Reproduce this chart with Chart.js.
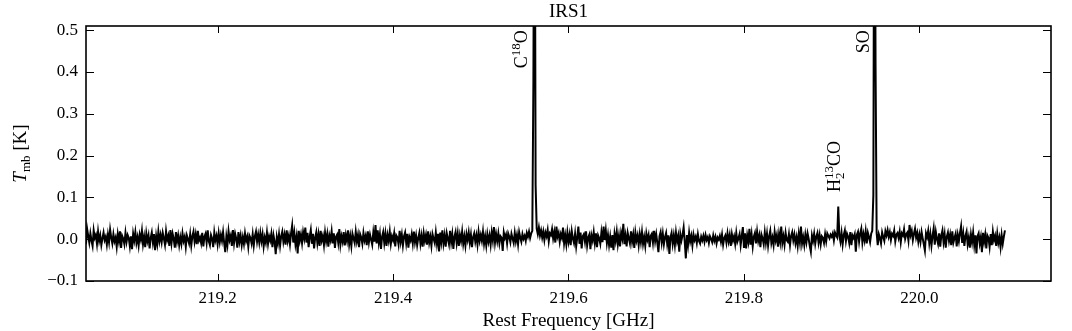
<!DOCTYPE html>
<html>
<head>
<meta charset="utf-8">
<title>IRS1</title>
<script src="https://cdn.jsdelivr.net/npm/chart.js@4.4.1/dist/chart.umd.min.js"></script>
<style>
  html, body { margin: 0; padding: 0; background: #fff; }
</style>
</head>
<body>
<canvas id="spectrum" width="1072" height="331"></canvas>
<script>
// channel grid of the spectrum
const freqStart = 219.05;    // GHz, first channel
const chanWidth = 0.00125;   // GHz per channel

// main beam temperature per channel in mK (40 channels = 0.05 GHz per row)
const tmbMilliK = [
  -12, 25, 8, -8, 14, -3, -16, 21, 3, 10, -11, 18, -4, 9, -14, 2, 16, -2, 6, -13, 11, -7, 23, 4, -10, 12, -5, 4, -18, 12, -5, 19, -21, 8, 1, -12, 15, -6, 10, 3,
  -17, 7, -24, 13, -3, 17, -9, 5, -15, 11, -1, 20, -12, 6, -19, 14, -4, 9, -22, 3, 16, -8, 12, -26, 7, -11, 18, -5, 10, -7, 15, 2, -13, 19, -2, 8, -16, 22, -9, 13,
  1, -20, 17, -6, 9, -14, 5, -11, 14, -4, 6, -18, 9, 0, -10, 12, -15, 7, 18, -6, 11, -12, 20, -3, 4, -9, 15, -17, 6, 13, -8, 21, -5, -14, 10, 2, -19, 16, -3, 8,
  -12, 14, -7, 10, -4, 17, -9, -31, 6, -13, 19, -2, 8, -16, 22, -9, 13, 1, -20, 17, -6, 9, -14, 5, -11, 14, -4, 6, -18, 9, 3, -10, 12, -15, 7, 18, -6, 11, -8, 15,
  -5, 12, -17, 4, -8, 16, -11, 7, -3, 13, -19, 9, -6, -36, 5, -10, 12, -15, 7, 18, -6, 10, -13, 21, -4, 9, -12, 14, 33, -8, 15, -12, 6, -34, 20, -3, 11, -9, 17, 2,
  28, -8, 15, -19, 6, 22, -11, 13, -22, 4, 17, -9, 11, -16, 20, -3, 8, -14, 16, -5, 12, -18, 9, -2, 19, -10, 14, -21, 6, 11, -8, 24, -13, 7, -6, 17, -15, 10, -4, 21,
  -12, 7, -16, 13, 2, -9, 18, -5, 10, -19, 12, 4, -11, 15, -3, 8, -14, 19, -7, 11, -1, -13, 16, -6, 34, -10, 21, -8, 12, -23, 6, 17, -9, 13, -16, 10, -4, 18, -11, 7,
  -2, 14, -17, 9, 4, -12, 20, -6, 11, -15, 7, 16, -9, 13, -20, 5, -3, 12, -10, 18, -7, 9, -14, 3, 15, -11, 8, -18, 14, -4, 10, -13, 19, -8, 6, -16, 12, 1, -9, 16,
  -10, 13, -29, 16, -6, 21, -10, 9, -18, 14, 1, -12, 20, -7, 12, -23, 6, 17, -9, 13, -16, 10, -4, 18, -11, 7, -15, 12, -2, 16, -8, 11, -19, 5, 14, -6, 9, -13, 17, -4,
  10, -4, 18, -11, 7, -15, 12, -6, 9, -13, 16, -3, 29, -8, 12, -5, 14, -10, 7, 3, -28, 16, 3, 11, -10, 14, 6, -7, 13, 2, -9, 15, -5, 10, -12, 17, 4, -6, 12, 1,
  8, -4, 15, 6, 18, 3, 14, 20, 380, 1200, 130, 25, 12, 28, 9, 21, 4, 18, -2, 16, 7, 22, -5, 14, 10, 24, 2, 17, -8, 30, 6, 15, -6, 12, 3, 28, -10, 9, -12, 16,
  -6, 11, -14, 19, 2, -9, 13, -17, 5, 30, -11, 16, -22, 7, 12, -6, 19, -15, 4, 11, -24, 9, -3, 17, -9, 14, -19, 9, 2, -11, 16, -7, 30, -2, 21, -9, 10, -14, 6, -20,
  10, -26, 13, -4, 18, -12, 8, -17, 15, 2, 37, -12, 8, -17, 15, 2, -10, 19, -6, 11, -21, 16, -3, 9, -14, 12, -7, 17, -11, 5, -16, 14, -1, 10, -19, 8, 13, -8, 20, -5,
  12, -9, -31, 7, 17, -8, 13, -12, 5, 15, -11, 9, -35, 4, 15, -11, 9, -14, 16, -5, 8, -30, 12, -3, 10, 28, -6, -46, 10, -13, 16, -5, 8, -15, 11, -2, 6, -9, 12, -4,
  -10, 6, -3, 8, -6, 10, -2, 5, -9, 7, 1, -7, 9, -4, 6, -10, 4, -1, 8, -6, 11, -13, 3, 9, -8, 14, -5, 10, -16, 12, -3, 7, -11, 15, -6, 2, 12, -14, 8, 29,
  -21, 14, -22, 9, -6, 25, -13, 11, -17, 6, 15, -10, 18, -4, 9, -19, 11, 2, -12, 16, -8, 13, -15, 7, 20, -9, 4, -14, 17, -3, 10, -18, 12, -6, 30, -9, 7, -13, 15, -2,
  -6, 12, -14, 8, 17, -3, 11, -10, 5, -16, 13, -7, 30, -10, 5, -14, 11, -7, 14, 1, -16, -30, 9, -4, 13, -11, 6, 15, -8, 10, -12, 7, 3, -9, 12, -5, 14, 8, 2, 11,
  6, 14, -3, 16, 9, 4, 78, 8, -6, 15, -12, 10, 21, -4, 13, 6, -9, 17, -14, 9, 3, 12, -30, 11, 18, -6, 14, 25, -8, 12, -3, 19, -10, 15, 5, -7, 13, 20, 105, 1200,
  420, 15, -14, 12, 3, -10, 16, 5, -4, 19, 9, 22, 6, 17, -2, 13, 8, 21, -5, 11, 15, 3, 18, -7, 14, 9, 24, 1, 12, 16, -3, 34, 10, 20, -2, 13, 25, 4, 15, -6,
  11, -6, 17, 2, -12, -27, 14, 5, 20, -9, 12, -15, 8, 26, -13, 17, 1, -11, 14, -18, 9, 21, -7, 12, -20, 6, 16, -4, 11, -14, 19, -8, 3, 13, -17, 10, -5, 15, 31, -9,
  13, -16, 8, 18, -12, 4, -20, 11, -7, 16, -14, 9, -34, 7, 14, -10, 5, -31, 15, -6, 11, -22, 9, 3, -18, 12, -14, 18, -2, 8, -16, 13, -9, 4, -19, 10, -11, 6, 21
];

const xTicks = [219.2, 219.4, 219.6, 219.8, 220.0];
const yTicks = [-0.1, 0.0, 0.1, 0.2, 0.3, 0.4, 0.5];

// line identifications: label text parts, where the label sits (GHz) and where it ends (K)
const lineLabels = [
  [{t: 'C'}, {sup: '18'}, {t: 'O'}],
  [{t: 'H'}, {sub: '2', sup: '13'}, {t: 'CO'}],
  [{t: 'SO'}]
];
const labelFreqs = [219.553, 219.910, 219.942];
const labelTops = [0.50, 0.235, 0.50];

const FONT = '"Liberation Serif", "Times New Roman", serif';

const points = tmbMilliK.map((v, i) => ({x: freqStart + i * chanWidth, y: v / 1000}));

function partFont(p, size) {
  if (p.t) return (p.it ? 'italic ' : '') + size + 'px ' + FONT;
  return Math.round(size * 0.7) + 'px ' + FONT;
}

function richWidth(ctx, parts, size) {
  let w = 0;
  parts.forEach(p => {
    ctx.font = partFont(p, size);
    if (p.t) w += ctx.measureText(p.t).width;
    else w += Math.max(p.sub ? ctx.measureText(p.sub).width : 0, p.sup ? ctx.measureText(p.sup).width : 0);
  });
  return w;
}

// draws along +x from x0 with the baseline at y=0 (caller sets up rotation)
function drawRich(ctx, parts, size, x0) {
  let x = x0;
  ctx.textAlign = 'left';
  ctx.textBaseline = 'alphabetic';
  parts.forEach(p => {
    ctx.font = partFont(p, size);
    if (p.t) {
      ctx.fillText(p.t, x, 0);
      x += ctx.measureText(p.t).width;
    } else {
      let w = 0;
      if (p.sup) { ctx.fillText(p.sup, x, -size * 0.4); w = ctx.measureText(p.sup).width; }
      if (p.sub) { ctx.fillText(p.sub, x, size * 0.2); w = Math.max(w, ctx.measureText(p.sub).width); }
      x += w;
    }
  });
}

const decorations = {
  id: 'decorations',
  afterDatasetsDraw(chart) {
    const {ctx, chartArea: a, scales: {x, y}} = chart;
    ctx.save();
    ctx.strokeStyle = '#000';
    ctx.lineWidth = 1;
    ctx.beginPath();
    x.ticks.forEach(t => {
      const px = Math.round(x.getPixelForValue(t.value)) + 0.5;
      ctx.moveTo(px, a.bottom); ctx.lineTo(px, a.bottom - 7);
      ctx.moveTo(px, a.top); ctx.lineTo(px, a.top + 7);
    });
    y.ticks.forEach(t => {
      const py = Math.round(y.getPixelForValue(t.value)) + 0.5;
      ctx.moveTo(a.left, py); ctx.lineTo(a.left + 8, py);
      ctx.moveTo(a.right, py); ctx.lineTo(a.right - 8, py);
    });
    ctx.stroke();
    ctx.lineWidth = 1.6;
    ctx.strokeRect(a.left, a.top, a.right - a.left, a.bottom - a.top);

    ctx.fillStyle = '#000';
    // title
    ctx.font = '19px ' + FONT;
    ctx.textAlign = 'center';
    ctx.textBaseline = 'alphabetic';
    ctx.fillText('IRS1', (a.left + a.right) / 2, 17);

    // y axis title with subscript
    const yTitle = [{t: 'T', it: true}, {sub: 'mb'}, {t: ' [K]'}];
    ctx.save();
    ctx.translate(26, (a.top + a.bottom) / 2);
    ctx.rotate(-Math.PI / 2);
    drawRich(ctx, yTitle, 19, -richWidth(ctx, yTitle, 19) / 2);
    ctx.restore();

    // line labels, reading upward, ending at the given temperature
    lineLabels.forEach((parts, i) => {
      ctx.save();
      ctx.translate(x.getPixelForValue(labelFreqs[i]), y.getPixelForValue(labelTops[i]));
      ctx.rotate(-Math.PI / 2);
      drawRich(ctx, parts, 18, -richWidth(ctx, parts, 18));
      ctx.restore();
    });
    ctx.restore();
  }
};

new Chart(document.getElementById('spectrum'), {
  type: 'line',
  data: {
    datasets: [{
      data: points,
      borderColor: '#000',
      borderWidth: 2,
      pointRadius: 0,
      tension: 0,
      fill: false,
      clip: 0
    }]
  },
  options: {
    responsive: false,
    animation: false,
    parsing: false,
    layout: { padding: { left: 0, right: 21, top: 26, bottom: 0 } },
    plugins: {
      legend: { display: false },
      tooltip: { enabled: false }
    },
    scales: {
      x: {
        type: 'linear',
        min: 219.05,
        max: 220.15,
        afterBuildTicks: s => { s.ticks = xTicks.map(v => ({value: v})); },
        afterFit: s => { s.height = 50; },
        grid: { display: false, drawTicks: false },
        border: { display: false },
        ticks: {
          padding: 7,
          color: '#000',
          font: { family: FONT, size: 17 },
          maxRotation: 0,
          callback: v => v.toFixed(1)
        },
        title: {
          display: true,
          text: 'Rest Frequency [GHz]',
          color: '#000',
          font: { family: FONT, size: 19, lineHeight: 1.0 },
          padding: { top: 0, bottom: 0 }
        }
      },
      y: {
        type: 'linear',
        min: -0.1,
        max: 0.51,
        afterBuildTicks: s => { s.ticks = yTicks.map(v => ({value: v})); },
        afterFit: s => { s.width = 86; },
        grid: { display: false, drawTicks: false },
        border: { display: false },
        ticks: {
          padding: 8,
          color: '#000',
          font: { family: FONT, size: 17 },
          callback: v => (v < 0 ? '\u2212' : '') + Math.abs(v).toFixed(1)
        }
      }
    }
  },
  plugins: [decorations]
});
</script>
</body>
</html>
